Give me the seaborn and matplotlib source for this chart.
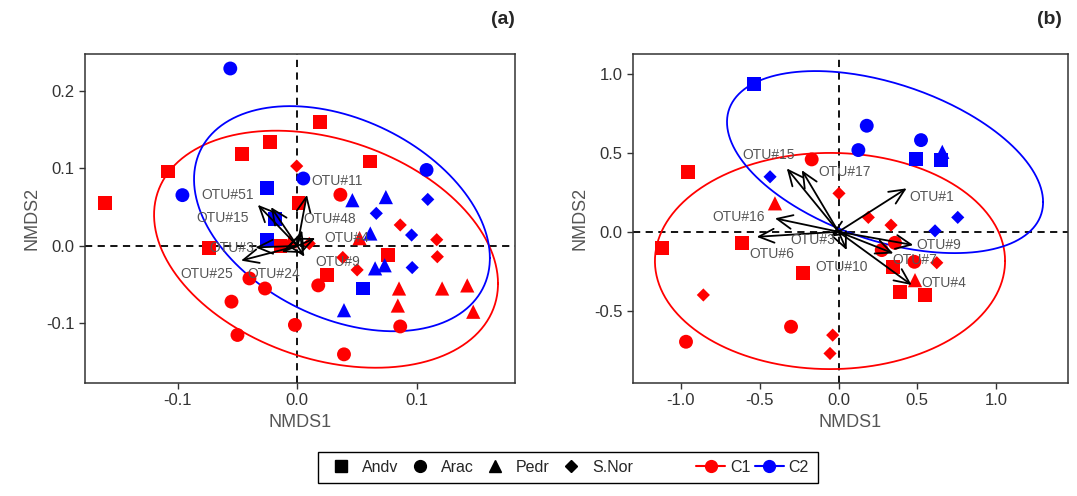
import numpy as np
import pandas as pd
import matplotlib
matplotlib.use("Agg")
import matplotlib.pyplot as plt
import seaborn as sns
from matplotlib.lines import Line2D
from matplotlib.patches import Rectangle

sns.set_style("white")
plt.rcParams['font.family'] = ['Liberation Sans', 'DejaVu Sans']

# ── Datos panel (a) ──
a_site = (['Andv'] * 11 + ['Arac'] * 9 + ['Pedr'] * 7 + ['S.Nor'] * 7 +
          ['Andv'] * 4 + ['Arac'] * 4 + ['Pedr'] * 6 + ['S.Nor'] * 4)
a_group = ['C1'] * 34 + ['C2'] * 18
a_x = [-0.161, -0.108, -0.046, -0.023, 0.019, 0.061, 0.001, -0.0735, 0.025, 0.0755, -0.014,
       0.036, 0.0175, -0.040, -0.027, -0.055, -0.050, -0.002, 0.086, 0.039,
       0.085, 0.084, 0.121, 0.142, 0.147, 0.052, -0.006,
       -0.0005, 0.086, 0.1165, 0.117, 0.038, 0.050, 0.010,
       -0.0256, -0.0186, -0.025, 0.055,
       -0.056, -0.096, 0.005, 0.108,
       0.046, 0.074, 0.061, 0.065, 0.073, 0.039,
       0.109, 0.066, 0.0955, 0.096]
a_y = [0.055, 0.096, 0.119, 0.134, 0.160, 0.109, 0.055, -0.003, -0.038, -0.012, 0.000,
       0.066, -0.051, -0.042, -0.055, -0.072, -0.115, -0.102, -0.104, -0.140,
       -0.055, -0.077, -0.055, -0.051, -0.085, 0.010, 0.006,
       0.103, 0.027, 0.008, -0.014, -0.015, -0.031, 0.003,
       0.075, 0.035, 0.008, -0.055,
       0.229, 0.0655, 0.087, 0.098,
       0.059, 0.063, 0.016, -0.029, -0.025, -0.083,
       0.060, 0.042, 0.014, -0.028]

a_otu = ['OTU#51', 'OTU#15', 'OTU#11', 'OTU#48', 'OTU#4', 'OTU#9', 'OTU#24', 'OTU#25', 'OTU#3']
a_otu_x = [-0.033, -0.022, 0.008, 0.004, 0.015, 0.006, -0.013, -0.047, -0.035]
a_otu_y = [0.053, 0.050, 0.066, 0.020, 0.010, -0.014, -0.008, -0.019, -0.002]
a_lab_x = [-0.058, -0.062, 0.033, 0.027, 0.041, 0.034, -0.020, -0.0755, -0.055]
a_lab_y = [0.0655, 0.036, 0.0836, 0.0345, 0.010, -0.021, -0.0357, -0.0357, -0.003]

# elipses: centro, semiejes (x, y) y correlación
a_ell_group = ['C1', 'C2']
a_ell_cx = [0.024, 0.0373]
a_ell_cy = [-0.0043, 0.0351]
a_ell_rx = [0.1437, 0.1236]
a_ell_ry = [0.153, 0.1453]
a_ell_rho = [-0.29, -0.35]

# ── Datos panel (b) ──
b_site = (['Andv'] * 7 + ['Arac'] * 6 + ['Pedr'] * 2 + ['S.Nor'] * 7 +
          ['Andv'] * 3 + ['Arac'] * 3 + ['Pedr'] * 1 + ['S.Nor'] * 3)
b_group = ['C1'] * 22 + ['C2'] * 10
b_x = [-0.952, -1.121, -0.614, -0.223, 0.348, 0.39, 0.549,
       -0.170, -0.967, -0.301, 0.274, 0.358, 0.481,
       -0.403, 0.485,
       0.003, -0.857, -0.037, -0.054, 0.189, 0.333, 0.623,
       -0.534, 0.491, 0.648,
       0.179, 0.126, 0.523,
       0.658,
       -0.434, 0.756, 0.612]
b_y = [0.380, -0.101, -0.07, -0.263, -0.222, -0.38, -0.40,
       0.458, -0.696, -0.601, -0.116, -0.07, -0.19,
       0.180, -0.306,
       0.243, -0.40, -0.654, -0.770, 0.091, 0.042, -0.196,
       0.935, 0.458, 0.454,
       0.671, 0.517, 0.580,
       0.506,
       0.348, 0.091, 0.006]

b_otu = ['OTU#15', 'OTU#17', 'OTU#1', 'OTU#16', 'OTU#6', 'OTU#3', 'OTU#10', 'OTU#9', 'OTU#7', 'OTU#4']
b_otu_x = [-0.328, -0.233, 0.432, -0.403, -0.519, -0.05, 0.052, 0.474, 0.348, 0.464]
b_otu_y = [0.401, 0.390, 0.275, 0.085, -0.032, -0.03, -0.116, -0.084, -0.137, -0.337]
b_lab_x = [-0.445, 0.04, 0.59, -0.635, -0.424, -0.16, 0.02, 0.633, 0.485, 0.665]
b_lab_y = [0.485, 0.38, 0.22, 0.095, -0.143, -0.053, -0.22, -0.084, -0.18, -0.327]

b_ell_group = ['C1', 'C2']
b_ell_cx = [-0.054, 0.295]
b_ell_cy = [-0.185, 0.441]
b_ell_rx = [1.11, 1.002]
b_ell_ry = [0.684, 0.576]
b_ell_rho = [0.0, -0.44]

paleta = {'C1': '#FF0000', 'C2': '#0000FF'}
marcadores = {'Andv': 's', 'Arac': 'o', 'Pedr': '^', 'S.Nor': 'D'}
tamanos = {'Andv': 100, 'Arac': 100, 'Pedr': 105, 'S.Nor': 45}
gris = '#555555'


def panel(ax, site, group, x, y, otu, ox, oy, lx, ly,
          eg, ecx, ecy, erx, ery, erho, xlim, ylim, xticks, yticks, xfmt):
    df = pd.DataFrame({'x': x, 'y': y, 'site': site, 'group': group})
    ax.axhline(0, color='black', ls=(0, (4, 3)), lw=1.3, zorder=1)
    ax.axvline(0, color='black', ls=(0, (4, 3)), lw=1.3, zorder=1)
    sns.scatterplot(data=df, x='x', y='y', hue='group', style='site', size='site',
                    palette=paleta, markers=marcadores, sizes=tamanos,
                    linewidth=0, legend=False, ax=ax, zorder=3)
    t = np.linspace(0, 2 * np.pi, 300)
    for g, cx, cy, rx, ry, rho in zip(eg, ecx, ecy, erx, ery, erho):
        ex = cx + rx * np.cos(t)
        ey = cy + ry * (rho * np.cos(t) + np.sqrt(1 - rho ** 2) * np.sin(t))
        ax.plot(ex, ey, color=paleta[g], lw=1.3, zorder=2)
    for name, tx, ty, tlx, tly in zip(otu, ox, oy, lx, ly):
        ax.annotate('', xy=(tx, ty), xytext=(0, 0),
                    arrowprops=dict(arrowstyle='->,head_length=1.1,head_width=0.5',
                                    color='black', lw=1.3, shrinkA=0, shrinkB=0),
                    zorder=4)
        ax.text(tlx, tly, name, ha='center', va='center', color=gris, fontsize=10, zorder=5)
    ax.set_xlim(xlim); ax.set_ylim(ylim)
    ax.set_xticks(xticks); ax.set_yticks(yticks)
    ax.set_xticklabels([xfmt.format(v) for v in xticks])
    ax.set_yticklabels([xfmt.format(v) for v in yticks])
    ax.set_xlabel('NMDS1', color=gris, fontsize=13, labelpad=4)
    ax.set_ylabel('NMDS2', color=gris, fontsize=13, labelpad=4)
    ax.tick_params(direction='out', length=4, width=1, colors='#333333', labelsize=12,
                   bottom=True, left=True)
    for s in ax.spines.values():
        s.set_color('#333333'); s.set_linewidth(1.1)


fig = plt.figure(figsize=(10.77, 4.96), dpi=100)
ax_a = fig.add_axes([85 / 1077, 1 - 383 / 496, 430 / 1077, 329 / 496])
ax_b = fig.add_axes([633 / 1077, 1 - 383 / 496, 435 / 1077, 329 / 496])

panel(ax_a, a_site, a_group, a_x, a_y, a_otu, a_otu_x, a_otu_y, a_lab_x, a_lab_y,
      a_ell_group, a_ell_cx, a_ell_cy, a_ell_rx, a_ell_ry, a_ell_rho,
      (-0.1774, 0.1819), (-0.177, 0.2477), [-0.1, 0.0, 0.1], [-0.1, 0.0, 0.1, 0.2], '{:.1f}')
panel(ax_b, b_site, b_group, b_x, b_y, b_otu, b_otu_x, b_otu_y, b_lab_x, b_lab_y,
      b_ell_group, b_ell_cx, b_ell_cy, b_ell_rx, b_ell_ry, b_ell_rho,
      (-1.303, 1.455), (-0.957, 1.125), [-1.0, -0.5, 0.0, 0.5, 1.0], [-0.5, 0.0, 0.5, 1.0], '{:.1f}')

fig.text(515 / 1077, 1 - 20 / 496, '(a)', ha='right', va='center', fontsize=14, fontweight='bold')
fig.text(1062 / 1077, 1 - 20 / 496, '(b)', ha='right', va='center', fontsize=14, fontweight='bold')

# ── Leyenda ──
h_site = [Line2D([], [], marker=marcadores[k], color='black', linestyle='None',
                 markersize=(6 if k == 'S.Nor' else 8.5), label=k) for k in marcadores]
h_grp = [Line2D([], [], marker='o', color=paleta[k], lw=1.5, markersize=8.5, label=k)
         for k in paleta]
ly = 1 - 467 / 496
leg1 = fig.legend(handles=h_site, loc='center left', bbox_to_anchor=(319 / 1077, ly),
                  ncol=4, frameon=False, fontsize=11.5, handlelength=1.0,
                  handletextpad=0.8, columnspacing=0.85)
leg2 = fig.legend(handles=h_grp, loc='center left', bbox_to_anchor=(682 / 1077, ly),
                  ncol=2, frameon=False, fontsize=11.5, handlelength=1.8,
                  handletextpad=0.3, columnspacing=0.3)
fig.add_artist(Rectangle((318 / 1077, 1 - 483 / 496), 500 / 1077, 31 / 496,
                         transform=fig.transFigure, fill=False, edgecolor='black', lw=1.0))

fig.savefig('out.png', dpi=100, facecolor='white')
